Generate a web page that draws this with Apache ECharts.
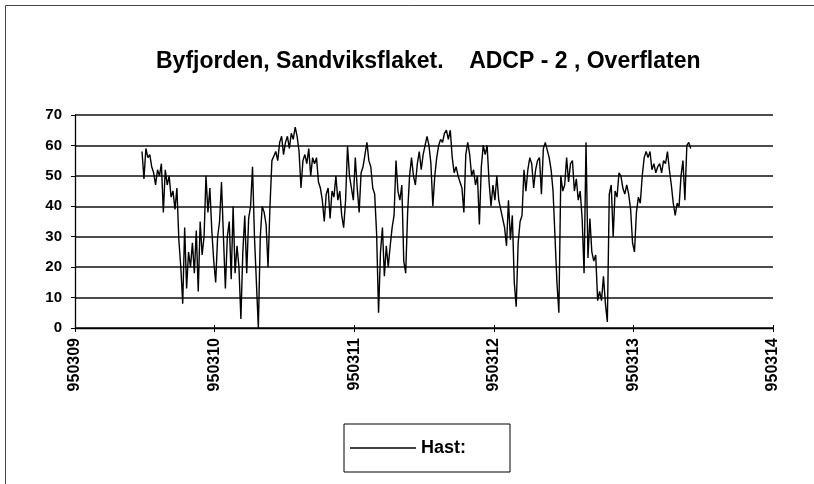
<!DOCTYPE html>
<html>
<head>
<meta charset="utf-8">
<script src="https://cdn.jsdelivr.net/npm/echarts@6/dist/echarts.min.js"></script>
<style>
  html, body { margin: 0; padding: 0; background: #fff; }
  #chart { width: 814px; height: 484px; }
</style>
</head>
<body>
<div id="chart"></div>
<script>
// Surface current speed, ADCP-2 at Sandviksflaket (Byfjorden), March 1995.
const titleText = 'Byfjorden, Sandviksflaket.    ADCP - 2 , Overflaten';
const seriesName = 'Hast:';

// Date ticks (YYMMDD) and speed ticks (cm/s)
const dayTicks = [950309, 950310, 950311, 950312, 950313, 950314];
const speedTicks = [0, 10, 20, 30, 40, 50, 60, 70];

// Time base of the record: first ensemble and sampling interval (20 min)
const firstSample = 950309.48;
const sampleStep = 1 / 72;

// Speed readings, one per ensemble
const speed = [
  58, 49, 59, 56, 57, 53, 51, 47, 52, 50,
  54, 38, 52, 47, 50, 43, 45, 39, 46, 29,
  20, 8, 33, 13, 25, 20, 28, 18, 32, 12,
  35, 24, 30, 50, 38, 46, 32, 22, 15, 30,
  35, 48, 30, 13, 30, 35, 16, 40, 18, 27,
  20, 3, 25, 37, 18, 36, 40, 53, 30, 15,
  0, 30, 40, 38, 34, 20, 40, 55, 55, 58,
  55, 61, 63, 57, 61, 63, 59, 64, 62, 66,
  63, 58, 46, 55, 57, 54, 59, 50, 56, 54,
  56, 48, 46, 42, 35, 44, 46, 36, 45, 43,
  50, 42, 45, 37, 33, 42, 60, 50, 50, 42,
  56, 46, 38, 51, 53, 57, 61, 55, 53, 46,
  44, 31, 5, 25, 33, 17, 27, 20, 27, 33,
  37, 55, 45, 42, 47, 22, 18, 38, 50, 56,
  50, 47, 54, 58, 52, 57, 60, 63, 60, 54,
  40, 50, 56, 60, 62, 61, 64, 65, 62, 65,
  56, 51, 53, 50, 48, 46, 38, 57, 61, 57,
  50, 52, 47, 50, 34, 53, 60, 57, 60, 48,
  40, 47, 42, 50, 42, 39, 36, 33, 27, 42,
  29, 37, 15, 7, 28, 35, 37, 52, 45, 52,
  56, 54, 46, 52, 55, 56, 44, 59, 61, 61,
  56, 52, 45, 30, 15, 5, 50, 45, 47, 56,
  48, 54, 55, 45, 49, 42, 45, 36, 18, 61,
  23, 36, 25, 22, 24, 9, 12, 9, 17, 8,
  2, 44, 47, 30, 45, 43, 51, 50, 46, 44,
  47, 44, 39, 28, 25, 38, 43, 41, 50, 56,
  58, 56, 58, 52, 54, 51, 53, 54, 51, 55,
  54, 58, 52, 47, 41, 37, 41, 40, 50, 55,
  42, 60, 61, 59
];

const points = speed.map((v, i) => [firstSample + i * sampleStep, v]);

const chart = echarts.init(document.getElementById('chart'), null, { renderer: 'canvas' });

const axisFont = { fontFamily: '"Liberation Sans", Arial, sans-serif', fontWeight: 'bold', color: '#000' };

chart.setOption({
  animation: false,
  backgroundColor: '#fff',
  title: {
    text: titleText,
    left: 156,
    top: 50,
    padding: 0,
    textStyle: {
      fontFamily: '"Liberation Sans", Arial, sans-serif',
      fontWeight: 'bold',
      fontSize: 23,
      color: '#000'
    }
  },
  graphic: [{
    type: 'rect',
    shape: { x: 5.5, y: 5.5, width: 1200, height: 1200 },
    style: { fill: 'none', stroke: '#444', lineWidth: 1 },
    silent: true
  }],
  legend: {
    left: 344,
    top: 424,
    padding: [15, 44, 15, 6],
    borderColor: '#000',
    borderWidth: 1,
    backgroundColor: '#fff',
    icon: 'rect',
    itemWidth: 66,
    itemHeight: 1.5,
    itemStyle: { color: '#000', borderWidth: 0 },
    textStyle: {
      fontFamily: '"Liberation Sans", Arial, sans-serif',
      fontSize: 18,
      fontWeight: 'bold',
      color: '#000',
      lineHeight: 17
    },
    data: [seriesName]
  },
  grid: { left: 75, right: 41, top: 115, bottom: 156, containLabel: false },
  xAxis: [{
    type: 'value',
    min: dayTicks[0],
    max: dayTicks[dayTicks.length - 1],
    interval: 1,
    axisLine: { show: true, lineStyle: { color: '#000', width: 1.3 } },
    axisTick: { show: true, inside: false, length: 4, lineStyle: { color: '#000', width: 1 } },
    splitLine: { show: false },
    axisLabel: Object.assign({
      rotate: 90,
      fontSize: 16,
      margin: 10,
      formatter: v => String(Math.round(v))
    }, axisFont)
  }, {
    type: 'value',
    position: 'bottom',
    min: dayTicks[0],
    max: dayTicks[dayTicks.length - 1],
    interval: 1,
    axisLine: { show: false },
    axisTick: { show: true, inside: true, length: 3, lineStyle: { color: '#000', width: 1 } },
    axisLabel: { show: false },
    splitLine: { show: false }
  }],
  yAxis: {
    type: 'value',
    min: speedTicks[0],
    max: speedTicks[speedTicks.length - 1],
    interval: 10,
    axisLine: { show: true, lineStyle: { color: '#000', width: 1.3 } },
    axisTick: { show: true, inside: false, length: 4, lineStyle: { color: '#000', width: 1 } },
    splitLine: { show: true, lineStyle: { color: '#111', width: 1.5 } },
    axisLabel: Object.assign({ fontSize: 15, margin: 13 }, axisFont)
  },
  series: [{
    name: seriesName,
    type: 'line',
    xAxisIndex: 0,
    data: points,
    symbol: 'none',
    showSymbol: false,
    lineStyle: { color: '#000', width: 1.4 },
    itemStyle: { color: '#000' }
  }]
});
</script>
</body>
</html>
